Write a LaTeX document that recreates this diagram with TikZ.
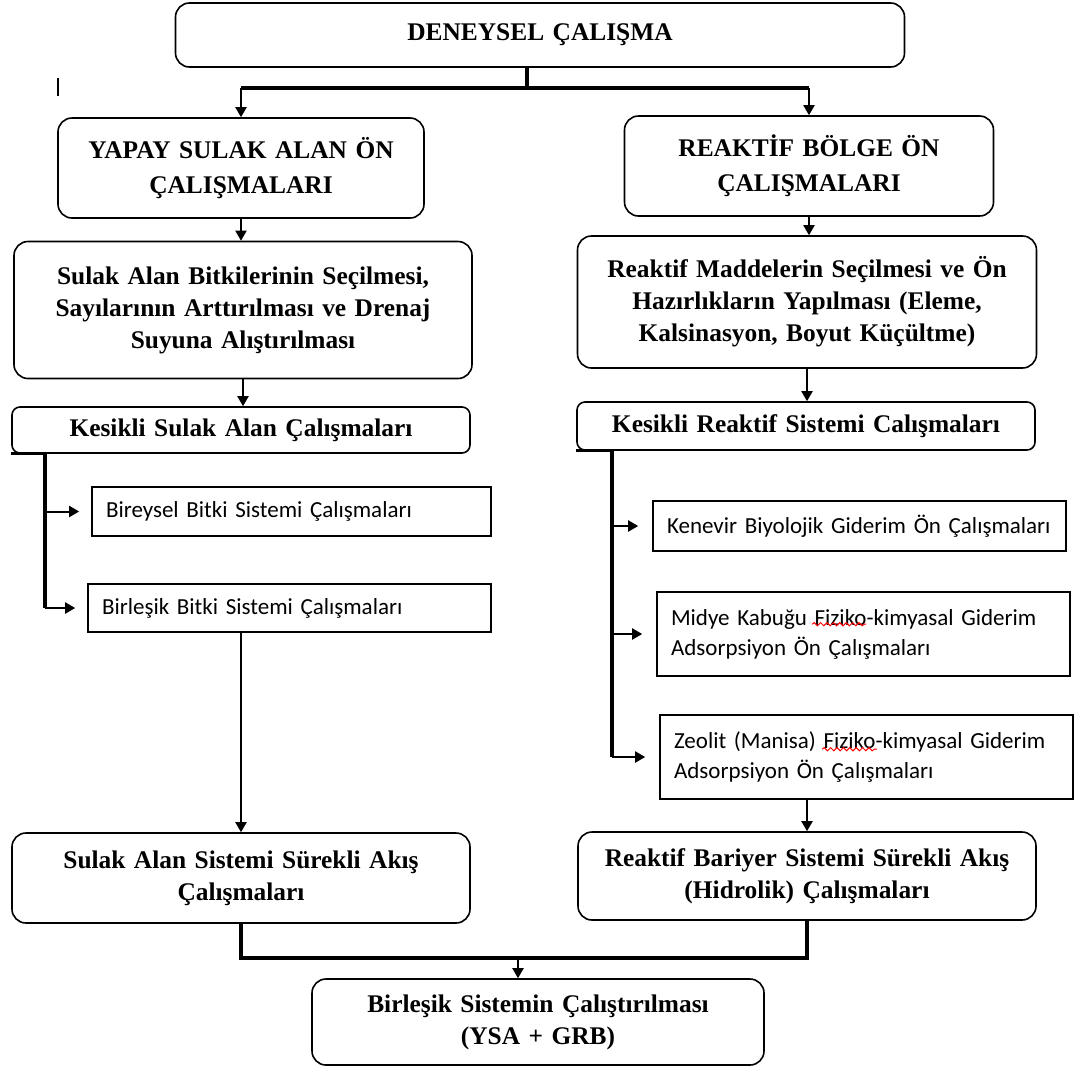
\documentclass[tikz,border=0pt]{standalone}
\usepackage{fontspec}
\setmainfont{Liberation Serif}
\newfontfamily\calibri{Carlito}
\usetikzlibrary{arrows.meta,decorations.pathmorphing}

\tikzset{
  bold box/.style = {draw, line width=0.8pt, rounded corners=7pt, align=center,
      inner sep=0pt, font=\bfseries\fontsize{12.7}{16}\selectfont},
  caps box/.style = {bold box, font=\bfseries\fontsize{12.7}{17.5}\selectfont},
  flat box/.style = {bold box, rounded corners=4pt},
  plain box/.style = {draw, line width=0.8pt, align=left, inner xsep=7pt,
      inner ysep=0pt, font=\calibri\fontsize{11.5}{15}\selectfont},
  link/.style = {line width=1pt, -{Triangle[length=5pt,width=5.5pt]}},
  bus/.style = {line width=1.6pt},
  spell wave/.style = {red, line width=0.5pt, decorate,
      decoration={snake, amplitude=0.8pt, segment length=3.2pt}}
}

\begin{document}
\begin{tikzpicture}[x=0.5pt, y=-0.5pt]
  \useasboundingbox (0,0) rectangle (1074,1066);

  % main column boxes
  \node[bold box, text width=364.5pt, minimum height=32pt] (deney) at (540,35)
    {DENEYSEL ÇALIŞMA};
  \node[caps box, text width=183pt, minimum height=50pt] (yapay) at (241,168)
    {YAPAY SULAK ALAN ÖN\\ÇALIŞMALARI};
  \node[caps box, text width=184.5pt, minimum height=50pt] (reaktif) at (809,166)
    {REAKTİF BÖLGE ÖN\\ÇALIŞMALARI};
  \node[bold box, text width=229pt, minimum height=68.5pt] (bitki) at (243,310)
    {Sulak Alan Bitkilerinin Seçilmesi,\\Sayılarının Arttırılması ve Drenaj\\Suyuna Alıştırılması};
  \node[bold box, text width=229.5pt, minimum height=66pt] (madde) at (807,302)
    {Reaktif Maddelerin Seçilmesi ve Ön\\Hazırlıkların Yapılması (Eleme,\\Kalsinasyon, Boyut Küçültme)};
  \node[flat box, text width=229pt, minimum height=23pt] (kssa) at (241,430)
    {Kesikli Sulak Alan Çalışmaları};
  \node[flat box, text width=229pt, minimum height=24pt] (ksre) at (806,426)
    {Kesikli Reaktif Sistemi Calışmaları};

  % batch sub-studies
  \node[plain box, text width=185.5pt, minimum height=24.5pt] (bireysel) at (291.5,511.5)
    {\mbox{Bireysel Bitki Sistemi Çalışmaları}};
  \node[plain box, text width=187.5pt, minimum height=24pt] (birlesik) at (289.5,608)
    {\mbox{Birleşik Bitki Sistemi Çalışmaları}};
  \node[plain box, text width=192.5pt, minimum height=25pt] (kenevir) at (859.5,526)
    {\mbox{Kenevir Biyolojik Giderim Ön Çalışmaları}};
  \node[plain box, text width=192.5pt, minimum height=42pt] (midye) at (863.5,634)
    {\mbox{Midye Kabuğu Fiziko-kimyasal Giderim}\\Adsorpsiyon Ön Çalışmaları};
  \node[plain box, text width=192.5pt, minimum height=42pt] (zeolit) at (866.5,757)
    {\mbox{Zeolit (Manisa) Fiziko-kimyasal Giderim}\\Adsorpsiyon Ön Çalışmaları};

  % spelling marks under Fiziko
  \draw[spell wave] ([xshift=78pt, yshift=-16.5pt]midye.north west) -- ++(54,0);
  \draw[spell wave] ([xshift=81.5pt, yshift=-17.5pt]zeolit.north west) -- ++(55,0);

  % continuous flow and combined system
  \node[bold box, text width=229pt, minimum height=45pt] (ssa) at (241,878)
    {Sulak Alan Sistemi Sürekli Akış\\Çalışmaları};
  \node[bold box, text width=229pt, minimum height=44pt] (rbs) at (807,876)
    {Reaktif Bariyer Sistemi Sürekli Akış\\(Hidrolik) Çalışmaları};
  \node[bold box, text width=226pt, minimum height=43pt] (bsc) at (538,1022)
    {Birleşik Sistemin Çalıştırılması\\(YSA + GRB)};

  % stray mark
  \draw[line width=0.8pt] (58,78) -- (58,96);

  % split from the top box
  \coordinate (split) at (527,88);
  \draw[bus] (deney.south -| split) -- (split);
  \draw[bus] (yapay.north |- split) -- (reaktif.north |- split);
  \draw[link] (yapay.north |- split) -- (yapay.north);
  \draw[link] (reaktif.north |- split) -- (reaktif.north);

  \draw[link] (yapay.south) -- (yapay.south |- bitki.north);
  \draw[link] (reaktif.south) -- (reaktif.south |- madde.north);
  \draw[link] (bitki.south) -- (bitki.south |- kssa.north);
  \draw[link] (madde.south) -- (madde.south |- ksre.north);

  % left bracket
  \coordinate (lbus) at (45,0);
  \draw[bus] (kssa.south west) -- (kssa.south west -| lbus) -- (lbus |- birlesik.west);
  \foreach \n in {bireysel,birlesik}
    \draw[link, shorten >=6pt] (lbus |- \n.west) -- (\n.west);

  % right bracket
  \coordinate (rbus) at (612,0);
  \draw[bus] (ksre.south west) -- (ksre.south west -| rbus) -- (rbus |- zeolit.west);
  \foreach \n in {kenevir,midye,zeolit}
    \draw[link, shorten >=7pt] (rbus |- \n.west) -- (\n.west);

  \draw[link] (ssa.north |- birlesik.south) -- (ssa.north);
  \draw[link] (rbs.north |- zeolit.south) -- (rbs.north);

  % merge into the combined system
  \coordinate (merge) at (518,958);
  \draw[bus] (ssa.south) |- (rbs.south |- merge) -- (rbs.south);
  \draw[link] (merge) -- (merge |- bsc.north);
\end{tikzpicture}
\end{document}
